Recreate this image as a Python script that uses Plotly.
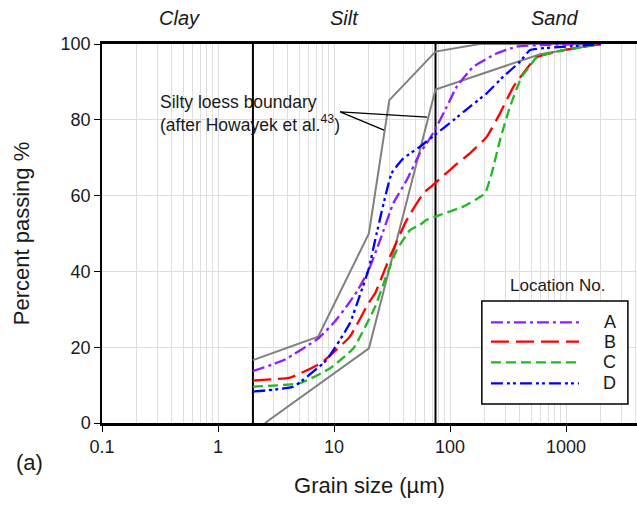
import math
import plotly.graph_objects as go

# ---------------- data ----------------
series_names = ["A", "B", "C", "D"]

a_size = [2, 3.7, 7.3, 10, 13, 16, 20, 25, 32.5, 42.4, 55, 63, 74, 94, 114, 159, 252, 376, 700, 2000]
a_pass = [13.7, 16.6, 22.3, 26.5, 31.0, 35.0, 40.5, 48.3, 58.0, 64.1, 71.2, 73.8, 77.3, 83.5, 88.7, 94.0, 97.5, 99.3, 99.8, 100]

b_size = [2, 4.2, 7.8, 13.7, 19.8, 22.6, 30.4, 42.4, 58.9, 74, 107, 149, 207, 270, 352, 473, 560, 1000, 2000]
b_pass = [11.2, 12.0, 15.9, 22.8, 31.6, 34.2, 43.9, 53.6, 60.6, 63.2, 67.6, 71.2, 75.5, 81.7, 88.7, 94.0, 96.5, 98.5, 100]

c_size = [2, 5.1, 9.2, 14.7, 22.5, 28, 34.7, 45.2, 55, 63, 74, 82, 130, 200, 229, 270, 329, 415, 473, 560, 1000, 2000]
c_pass = [9.6, 10.5, 14.4, 19.7, 30.5, 38.5, 45.6, 50.9, 52.3, 53.6, 54.4, 54.9, 57.1, 60.6, 65.9, 74.7, 83.5, 91.4, 93.6, 96.5, 98.5, 100]

d_size = [2, 4.46, 8.6, 13.7, 16.2, 19.8, 23.3, 31.4, 39.6, 55, 76.8, 107, 149, 207, 288, 401, 490, 1000, 2000]
d_pass = [8.3, 9.6, 16.6, 26.3, 32.5, 40.4, 50.0, 65.9, 69.8, 72.9, 76.4, 79.9, 83.5, 87.0, 91.4, 95.3, 98.4, 99.3, 100]

# silty loess boundary (after Howayek et al.)
upper_size = [2, 7.3, 20, 30, 75, 180, 2000]
upper_pass = [16.6, 22.8, 50, 85.2, 98, 100, 100]
lower_size = [2.54, 20, 75, 597, 2000]
lower_pass = [0, 19.7, 88, 97.3, 100]

# leader lines from the boundary note to the two boundary curves
leader_size = [63.4, 11.3, 27]
leader_pass = [80.7, 82.1, 77.3]

class_limits = [2, 75]                  # clay/silt and silt/sand limits (µm)
zone_labels = ["Clay", "Silt", "Sand"]
zone_centres = [0.47, 12.4, 800]

x_tick_vals = [0.1, 1, 10, 100, 1000]
x_tick_text = ["0.1", "1", "10", "100", "1000"]
y_tick_vals = [0, 20, 40, 60, 80, 100]

# ---------------- styles ----------------
FONT = "Arial, 'Liberation Sans', sans-serif"
TXT = "#1a1a1a"
GRID = "#dedede"
GRAY = "#808080"
colors = {"A": "#8C1EFF", "B": "#FF0000", "C": "#22B822", "D": "#0000FF"}
dashes = {"A": "12px,4px,3px,4px",
          "B": "18px,7px",
          "C": "10px,5px",
          "D": "12px,4px,3px,3px,3px,4px"}
series = {"A": (a_size, a_pass), "B": (b_size, b_pass),
          "C": (c_size, c_pass), "D": (d_size, d_pass)}

fig = go.Figure()

# class limits (vertical black lines)
for lim in class_limits:
    fig.add_trace(go.Scatter(x=[lim, lim], y=[0, 100], mode="lines",
                             line=dict(color="black", width=2),
                             showlegend=False, hoverinfo="skip"))

# loess boundary
for xs, ys in [(upper_size, upper_pass), (lower_size, lower_pass)]:
    fig.add_trace(go.Scatter(x=xs, y=ys, mode="lines",
                             line=dict(color=GRAY, width=2),
                             showlegend=False, hoverinfo="skip"))

# leader lines
fig.add_trace(go.Scatter(x=leader_size, y=leader_pass,
                         mode="lines", line=dict(color="black", width=1.3),
                         showlegend=False, hoverinfo="skip"))

# grading curves
for name in series_names:
    xs, ys = series[name]
    fig.add_trace(go.Scatter(x=xs, y=ys, mode="lines", name=name,
                             line=dict(color=colors[name], width=2.3,
                                       dash=dashes[name], shape="spline",
                                       smoothing=0.4),
                             showlegend=False))

# minor grid positions (2..9 in each decade)
minor_vals = [k * 10 ** e for e in range(-1, 4) for k in range(2, 10)]

annotations = []
shapes = []

# zone labels
for lab, xc in zip(zone_labels, zone_centres):
    annotations.append(dict(x=math.log10(xc), y=1.068, xref="x", yref="paper",
                            text="<i>%s</i>" % lab, showarrow=False,
                            font=dict(family=FONT, size=20, color=TXT),
                            xanchor="center", yanchor="middle"))

# boundary note
annotations.append(dict(x=0.1047, y=0.8166, xref="paper", yref="paper",
                        text="Silty loess boundary<br>(after Howayek et al.<sup>43</sup>)",
                        showarrow=False, align="left", xanchor="left", yanchor="middle",
                        font=dict(family=FONT, size=17.5, color=TXT)))

# panel label
annotations.append(dict(x=-0.1346, y=-0.1055, xref="paper", yref="paper",
                        text="(a)", showarrow=False,
                        font=dict(family=FONT, size=22, color=TXT),
                        xanchor="center", yanchor="middle"))

# custom legend
leg_x0, leg_x1, leg_y0, leg_y1 = 0.710, 0.983, 0.050, 0.322
shapes.append(dict(type="rect", xref="paper", yref="paper",
                   x0=leg_x0, x1=leg_x1, y0=leg_y0, y1=leg_y1,
                   line=dict(color="black", width=1.5), fillcolor="white",
                   layer="above"))
annotations.append(dict(x=0.852, y=0.3615, xref="paper", yref="paper",
                        text="Location No.", showarrow=False,
                        font=dict(family=FONT, size=17, color=TXT),
                        xanchor="center", yanchor="middle"))
item_y = [0.2657, 0.2145, 0.1602, 0.1047]
for name, yy in zip(series_names, item_y):
    shapes.append(dict(type="line", xref="paper", yref="paper",
                       x0=0.727, x1=0.8916, y0=yy, y1=yy,
                       line=dict(color=colors[name], width=2.3, dash=dashes[name]),
                       layer="above"))
    annotations.append(dict(x=0.9495, y=yy, xref="paper", yref="paper",
                            text=name, showarrow=False,
                            font=dict(family=FONT, size=18, color=TXT),
                            xanchor="center", yanchor="middle"))

fig.update_layout(
    width=637, height=505,
    margin=dict(l=102, r=0, t=44, b=82),
    paper_bgcolor="white", plot_bgcolor="white",
    font=dict(family=FONT, size=18, color=TXT),
    showlegend=False,
    annotations=annotations,
    shapes=shapes,
    xaxis=dict(type="log", range=[-1, 3.612],
               tickvals=x_tick_vals, ticktext=x_tick_text,
               ticks="outside", ticklen=6, tickwidth=1.3, tickcolor="black",
               showline=True, linecolor="black", linewidth=2.5, mirror=True,
               showgrid=True, gridcolor=GRID, gridwidth=1,
               minor=dict(tickvals=minor_vals, showgrid=True, gridcolor=GRID,
                          gridwidth=1, ticks=""),
               tickfont=dict(family=FONT, size=18, color=TXT),
               title=dict(text="Grain size (µm)", standoff=22,
                          font=dict(family=FONT, size=22, color=TXT)),
               zeroline=False),
    yaxis=dict(range=[0, 100], tickvals=y_tick_vals,
               ticks="outside", ticklen=6, tickwidth=1.3, tickcolor="black",
               showline=True, linecolor="black", linewidth=1.5,
               showgrid=True, gridcolor=GRID, gridwidth=1,
               tickfont=dict(family=FONT, size=18, color=TXT),
               title=dict(text="Percent passing %", standoff=25,
                          font=dict(family=FONT, size=22, color=TXT)),
               zeroline=False),
)

fig.write_html("out.html",
               config={"displayModeBar": False},
               post_script="document.body.style.margin='0';document.body.style.overflow='hidden';")
